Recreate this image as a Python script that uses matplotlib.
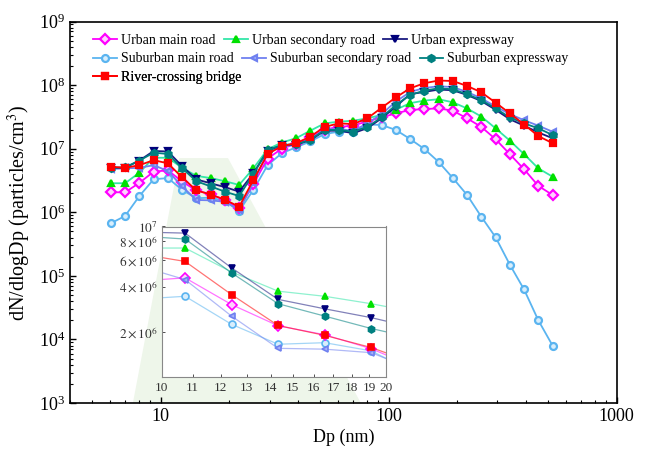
import matplotlib
matplotlib.use("Agg")
import matplotlib.pyplot as plt
from matplotlib.patches import Polygon
from matplotlib.ticker import FixedLocator, FuncFormatter, NullFormatter, NullLocator

plt.rcParams["font.family"] = ["Liberation Serif", "DejaVu Serif"]
plt.rcParams["mathtext.fontset"] = "stix"

# particle diameter bins (nm)
dp = [6.04, 6.98, 8.06, 9.31, 10.75, 12.41, 14.33, 16.55, 19.11, 22.07, 25.48, 29.43,
      33.98, 39.24, 45.32, 52.33, 60.43, 69.78, 80.58, 93.06, 107.46, 124.09, 143.30,
      165.48, 191.09, 220.67, 254.83, 294.27, 339.82, 392.42, 453.16, 523.30]

urban_main = [2.06e6, 2.06e6, 2.9e6, 4.35e6, 4.57e6, 3.04e6, 2.2e6, 1.92e6, 1.55e6, 1.15e6,
              2.75e6, 7.0e6, 1.0e7, 1.2e7, 1.5e7, 2.0e7, 2.2e7, 2.3e7, 2.7e7, 3.1e7,
              3.6e7, 4.06e7, 4.2e7, 4.3e7, 3.96e7, 3.0e7, 2.2e7, 1.41e7, 8.2e6, 4.75e6,
              2.6e6, 1.87e6]
urban_secondary = [2.86e6, 2.86e6, 4.2e6, 7.2e6, 7.2e6, 5.0e6, 3.73e6, 3.45e6, 3.08e6, 2.69e6,
                   4.9e6, 9.8e6, 1.25e7, 1.46e7, 1.92e7, 2.5e7, 2.66e7, 2.75e7, 3.0e7, 3.4e7,
                   4.1e7, 5.2e7, 5.7e7, 6.0e7, 5.36e7, 4.3e7, 3.2e7, 2.09e7, 1.34e7, 8.2e6,
                   4.9e6, 3.63e6]
urban_express = [5.0e6, 5.0e6, 6.5e6, 9.2e6, 9.04e6, 5.32e6, 3.29e6, 2.85e6, 2.49e6, 2.11e6,
                 4.1e6, 9.3e6, 1.14e7, 1.15e7, 1.37e7, 1.9e7, 1.93e7, 1.75e7, 2.1e7, 3.0e7,
                 4.6e7, 7.2e7, 7.8e7, 8.5e7, 8.3e7, 7.0e7, 5.6e7, 4.1e7, 2.9e7, 2.3e7,
                 1.8e7, 1.46e7]
suburban_main = [6.7e5, 8.75e5, 1.8e6, 3.3e6, 3.45e6, 2.25e6, 1.66e6, 1.7e6, 1.5e6, 1.05e6,
                 2.24e6, 5.5e6, 8.5e6, 1.05e7, 1.3e7, 1.7e7, 1.85e7, 1.8e7, 2.4e7, 2.36e7,
                 1.97e7, 1.42e7, 9.9e6, 6.2e6, 3.46e6, 1.87e6, 8.5e5, 4.05e5, 1.5e5, 6.1e4,
                 2.0e4, 8.0e3]
suburban_secondary = [4.8e6, 4.9e6, 5.0e6, 5.5e6, 4.45e6, 2.55e6, 1.56e6, 1.54e6, 1.46e6, 1.1e6,
                      2.9e6, 8.8e6, 1.1e7, 1.15e7, 1.4e7, 2.0e7, 2.05e7, 1.9e7, 2.5e7, 3.5e7,
                      5.5e7, 7.8e7, 9.0e7, 9.6e7, 9.3e7, 7.8e7, 6.2e7, 4.6e7, 3.5e7, 2.8e7,
                      2.3e7, 1.85e7]
suburban_express = [5.0e6, 5.1e6, 6.5e6, 8.65e6, 8.26e6, 4.93e6, 3.08e6, 2.55e6, 2.11e6, 1.8e6,
                    4.0e6, 9.5e6, 1.14e7, 1.18e7, 1.37e7, 1.97e7, 1.97e7, 1.85e7, 2.2e7, 3.1e7,
                    4.86e7, 6.98e7, 8.2e7, 8.9e7, 8.6e7, 7.2e7, 5.8e7, 4.3e7, 3.1e7, 2.5e7,
                    2.09e7, 1.64e7]
bridge = [5.2e6, 5.0e6, 5.5e6, 6.6e6, 5.87e6, 3.54e6, 2.21e6, 1.9e6, 1.58e6, 1.22e6,
          3.22e6, 8.2e6, 1.1e7, 1.22e7, 1.55e7, 2.2e7, 2.5e7, 2.44e7, 3.0e7, 4.4e7,
          6.4e7, 8.9e7, 1.07e8, 1.18e8, 1.16e8, 9.7e7, 7.7e7, 5.3e7, 3.6e7, 2.4e7,
          1.58e7, 1.22e7]

labels = ["Urban main road", "Urban secondary road", "Urban expressway",
          "Suburban main road", "Suburban secondary road", "Suburban expressway",
          "River-crossing bridge"]
series = [urban_main, urban_secondary, urban_express, suburban_main,
          suburban_secondary, suburban_express, bridge]
# (line colour, marker, marker face, marker edge)
styles = [("#ff00ff", "D", "#ffd0ff", "#ff00ff"),
          ("#33e6a8", "^", "#00e000", "#00e000"),
          ("#1a1a80", "v", "#00007a", "#00007a"),
          ("#5ab4f0", "o", "#d8eefc", "#5ab4f0"),
          ("#6f80f0", "<", "#a6b2f8", "#6f80f0"),
          ("#008080", "h", "#008080", "#008080"),
          ("#ff0000", "s", "#ff0000", "#ff0000")]
draw_order = [3, 0, 1, 4, 2, 5, 6]

inset_xticks = [10, 11, 12, 13, 14, 15, 16, 17, 18, 19, 20]
inset_yticks = [2e6, 4e6, 6e6, 8e6, 1e7]
inset_ylabels = [r"$2\times10^{6}$", r"$4\times10^{6}$", r"$6\times10^{6}$",
                 r"$8\times10^{6}$", r"$10^{7}$"]

fig = plt.figure(figsize=(6.46, 4.53), dpi=100)
ax = fig.add_axes([0.1084, 0.1104, 0.8462, 0.8421])

# zoom indicator shading
ax.add_patch(Polygon([(0.2, 0.642), (0.289, 0.642), (0.532, 0.0), (0.115, 0.0)],
                     closed=True, transform=ax.transAxes, facecolor="#eef6ea",
                     edgecolor="none", zorder=0))

handles = {}
for i in draw_order:
    lc, mk, mf, me = styles[i]
    h, = ax.plot(dp, series[i], color=lc, lw=1.3, marker=mk, markersize=5,
                 markerfacecolor=mf, markeredgecolor=me, markeredgewidth=1.6,
                 label=labels[i], zorder=3)
    handles[i] = h

ax.set_xscale("log")
ax.set_yscale("log")
ax.set_xlim(4, 1000)
ax.set_ylim(1e3, 1e9)
ax.set_xlabel("Dp (nm)", fontsize=13, labelpad=3)
ax.set_ylabel("dN/dlogDp (particles/cm$^3$)", fontsize=14.5, labelpad=4)
ax.tick_params(which="both", direction="in", top=False, right=False, labelsize=13)
ax.tick_params(which="major", length=4, width=1)
ax.tick_params(which="minor", length=2.5, width=0.8)
ax.xaxis.set_major_formatter(FuncFormatter(lambda v, p: f"{v:g}"))
ax.xaxis.set_minor_formatter(NullFormatter())
for s in ax.spines.values():
    s.set_linewidth(1.2)

# legend rows, laid out like the original text legend
rows = [[0, 1, 2], [3, 4, 5], [6]]
row_y = [0.966, 0.918, 0.870]
for r, ys in zip(rows, row_y):
    leg = ax.legend([handles[i] for i in r], [labels[i] for i in r], ncol=3,
                    loc="upper left", bbox_to_anchor=(0.035, ys + 0.012), frameon=False,
                    fontsize=10, handlelength=1.7, handletextpad=0.3,
                    columnspacing=0.6, borderpad=0.3, borderaxespad=0.0)
    ax.add_artist(leg)

# inset
axin = fig.add_axes([0.2503, 0.1667, 0.3472, 0.3333])
for i in draw_order:
    lc, mk, mf, me = styles[i]
    axin.plot(dp, series[i], color=lc, lw=0.9, alpha=0.55)
    axin.plot(dp, series[i], ls="none", marker=mk, markersize=5,
              markerfacecolor=mf, markeredgecolor=me, markeredgewidth=1.2)
axin.set_xscale("log")
axin.set_yscale("log")
axin.set_xlim(10, 20)
axin.set_ylim(1e6, 1e7)
axin.xaxis.set_major_locator(FixedLocator(inset_xticks))
axin.set_xticklabels([str(t) for t in inset_xticks])
axin.xaxis.set_minor_locator(NullLocator())
axin.yaxis.set_major_locator(FixedLocator(inset_yticks))
axin.set_yticklabels(inset_ylabels)
axin.yaxis.set_minor_locator(NullLocator())
axin.tick_params(which="both", direction="in", labelsize=9.5, length=2, width=0.6,
                 colors="#333333", pad=3)
for s in axin.spines.values():
    s.set_color("#888888")
    s.set_linewidth(0.8)

fig.savefig("out.png", dpi=100)
